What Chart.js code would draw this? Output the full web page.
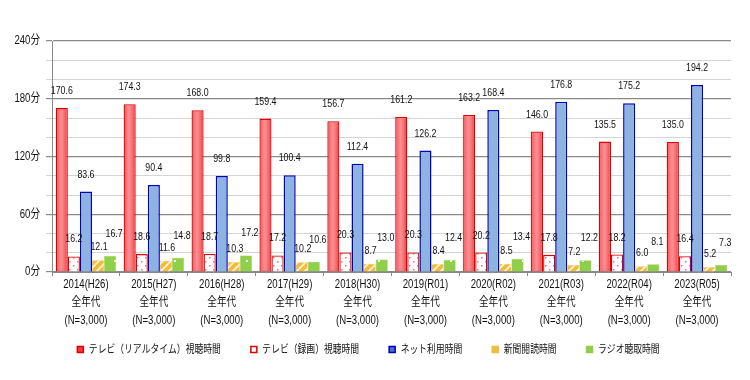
<!DOCTYPE html>
<html><head><meta charset="utf-8">
<script src="https://cdn.jsdelivr.net/npm/chart.js@4.4.0/dist/chart.umd.min.js"></script>
<style>html,body{margin:0;padding:0;background:#fff}#wrap{width:750px;height:380px}</style>
</head><body><div id="wrap"><canvas id="c" width="750" height="380"></canvas></div>
<script>
const years = ['2014(H26)','2015(H27)','2016(H28)','2017(H29)','2018(H30)','2019(R01)','2020(R02)','2021(R03)','2022(R04)','2023(R05)'];
const ageLine = '全年代';
const nLine = '(N=3,000)';
const seriesNames = ['テレビ（リアルタイム）視聴時間','テレビ（録画）視聴時間','ネット利用時間','新聞閲読時間','ラジオ聴取時間'];
const tvRealtime = [170.6,174.3,168.0,159.4,156.7,161.2,163.2,146.0,135.5,135.0];
const tvRecorded = [16.2,18.6,18.7,17.2,20.3,20.3,20.2,17.8,18.2,16.4];
const netUse = [83.6,90.4,99.8,100.4,112.4,126.2,168.4,176.8,175.2,194.2];
const newspaper = [12.1,11.6,10.3,10.2,8.7,8.4,8.5,7.2,6.0,5.2];
const radio = [16.7,14.8,17.2,10.6,13.0,12.4,13.4,12.2,8.1,7.3];
const yTicks = [0,60,120,180,240];

const FONT = '"Liberation Sans", "Noto Sans CJK JP", sans-serif';
const K = 0.8; // horizontal text condensing, as in the reference

const ctx0 = document.getElementById('c').getContext('2d');
// condensed text rendering (real text, narrowed horizontally)
(function(){
  const of = ctx0.fillText.bind(ctx0), om = ctx0.measureText.bind(ctx0);
  ctx0.fillText = function(t,x,y,mw){ ctx0.save(); ctx0.translate(x,y); ctx0.scale(K,1); of(t,0,0); ctx0.restore(); };
  ctx0.measureText = function(t){ const m = om(t); return {width:m.width*K, actualBoundingBoxAscent:m.actualBoundingBoxAscent, actualBoundingBoxDescent:m.actualBoundingBoxDescent, actualBoundingBoxLeft:m.actualBoundingBoxLeft*K, actualBoundingBoxRight:m.actualBoundingBoxRight*K}; };
})();

const dotPat = (()=>{const c=document.createElement('canvas');c.width=8;c.height=8;const x=c.getContext('2d');x.fillStyle='#fff';x.fillRect(0,0,8,8);x.fillStyle='#f06a8a';x.fillRect(1,1,1.5,1.5);x.fillRect(5,5,1.5,1.5);return ctx0.createPattern(c,'repeat');})();
const stripePat = (()=>{const c=document.createElement('canvas');c.width=8;c.height=8;const x=c.getContext('2d');x.fillStyle='#f2bd3c';x.fillRect(0,0,8,8);x.strokeStyle='#fff6dc';x.lineWidth=1.6;x.beginPath();x.moveTo(-2,2);x.lineTo(2,-2);x.moveTo(-2,10);x.lineTo(10,-2);x.moveTo(6,10);x.lineTo(10,6);x.stroke();return ctx0.createPattern(c,'repeat');})();
const greenPat = (()=>{const c=document.createElement('canvas');c.width=12;c.height=12;const x=c.getContext('2d');x.fillStyle='#8fcf4a';x.fillRect(0,0,12,12);x.fillStyle='#fff';x.fillRect(6,8,2,2);return ctx0.createPattern(c,'repeat');})();

const labelOffsets = [{dx:0,dy:17},{dx:0,dy:17},{dx:0,dy:17},{dx:1,dy:13},{dx:4,dy:22}];

const LEGEND_H = 26, LEGEND_SHIFT = -16;
const shinePlugin = {
  id:'shine',
  afterInit(chart){
    const lg = chart.legend;
    if (lg) {
      const origFit = lg.fit.bind(lg);
      lg.fit = function(){ origFit(); this.height = LEGEND_H; };
    }
  },
  afterLayout(chart){
    const lg = chart.legend;
    if (lg) { lg._origTop = lg.top; }
  },
  beforeDraw(chart){
    const lg = chart.legend;
    if (lg && lg._origTop !== undefined) { lg.top = lg._origTop + LEGEND_SHIFT; lg.bottom = lg._origTop + 60; }
  },
  afterDatasetsDraw(chart){
    const ctx=chart.ctx;
    chart.getDatasetMeta(0).data.forEach(el=>{
      const w=el.width, l=el.x-w/2, top=el.y, bot=el.base;
      const g=ctx.createLinearGradient(l,0,l+w,0);
      g.addColorStop(0,'rgba(255,255,255,0)');
      g.addColorStop(0.45,'rgba(255,200,200,0.55)');
      g.addColorStop(0.9,'rgba(255,255,255,0)');
      ctx.save();ctx.fillStyle=g;ctx.fillRect(l+1.5,top+1.5,w-3,bot-top-2);ctx.restore();
    });
  },
  afterDraw(chart){
    const ctx=chart.ctx;
    ctx.save();
    ctx.font='11px '+FONT;ctx.fillStyle='#111';ctx.textAlign='center';ctx.textBaseline='middle';
    chart.data.datasets.forEach((ds,i)=>{
      chart.getDatasetMeta(i).data.forEach((el,j)=>{
        const o=labelOffsets[i];
        ctx.fillText(ds.data[j].toFixed(1), el.x+o.dx, el.y-o.dy);
      });
    });
    ctx.restore();
  }
};

const legendFill = ['#f03c3c','#ffffff','#4a6fd0','#f2bd3c','#8fcf4a'];
const legendStroke = ['#e00000','#e00000','#0000b0','#f2bd3c','#8fcf4a'];

new Chart(ctx0,{
  type:'bar',
  data:{
    labels: years.map(y=>[y,ageLine,nLine]),
    datasets:[
      {label:seriesNames[0],data:tvRealtime,backgroundColor:'#f5494f',borderColor:'#e00000',borderWidth:1.3},
      {label:seriesNames[1],data:tvRecorded,backgroundColor:dotPat,borderColor:'#e00000',borderWidth:1.3},
      {label:seriesNames[2],data:netUse,backgroundColor:'#8db3e2',borderColor:'#0000b8',borderWidth:1.5},
      {label:seriesNames[3],data:newspaper,backgroundColor:stripePat,borderColor:'#f2c060',borderWidth:0.5},
      {label:seriesNames[4],data:radio,backgroundColor:greenPat,borderColor:'#8fcf4a',borderWidth:0.5}
    ]
  },
  options:{
    responsive:false, animation:false,
    layout:{padding:{left:6,right:19,top:41,bottom:24}},
    datasets:{bar:{categoryPercentage:0.89,barPercentage:1.0}},
    scales:{
      x:{
        grid:{offset:true,drawOnChartArea:false,tickLength:4,color:'#888'},
        border:{color:'#888',width:1},
        ticks:{color:'#111',font:{family:FONT,size:12,lineHeight:1.5},padding:0,maxRotation:0,autoSkip:false}
      },
      y:{
        min:0,max:240,
        afterFit(s){s.width=46;},
        ticks:{stepSize:20,autoSkip:false,color:'#111',font:{family:FONT,size:12},padding:6,
          callback:(v)=> yTicks.includes(v) ? v+'分' : ''},
        grid:{color:(c)=> (c.tick && c.tick.value%60===0) ? '#8a8a8a' : '#d4d4d4', lineWidth:(c)=> (c.tick && c.tick.value%60===0)?1.2:1, tickLength:6},
        border:{color:'#8a8a8a',width:1}
      }
    },
    plugins:{
      tooltip:{enabled:false},
      legend:{position:'bottom',
        labels:{font:{family:FONT,size:11},color:'#111',boxWidth:6,boxHeight:6,padding:30,
          generateLabels:(chart)=>chart.data.datasets.map((d,i)=>({text:d.label,fillStyle:legendFill[i],strokeStyle:legendStroke[i],lineWidth:1.5,datasetIndex:i,hidden:false,fontColor:'#111'}))}
      }
    }
  },
  plugins:[shinePlugin]
});
</script></body></html>
